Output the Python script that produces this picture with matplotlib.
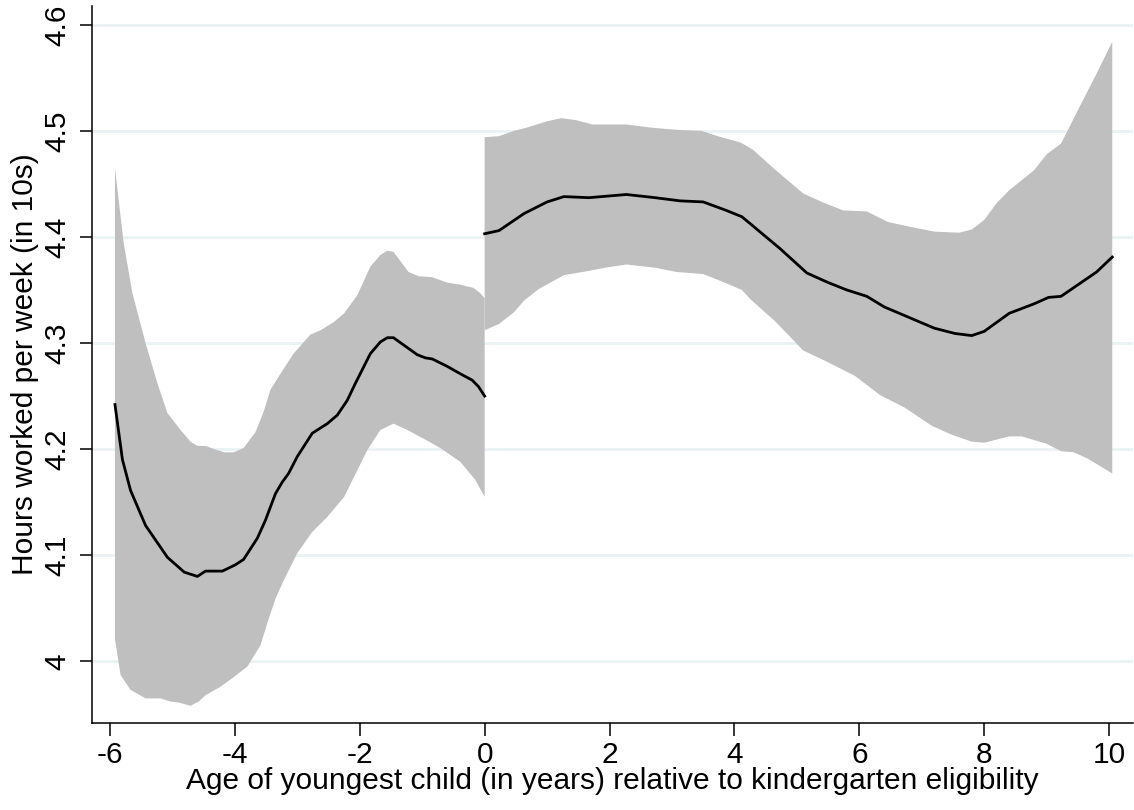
import numpy as np
import matplotlib
matplotlib.use("Agg")
import matplotlib.pyplot as plt

# fitted line and 95% band, before kindergarten eligibility (x <= 0)
left_x = [-5.92, -5.80, -5.67, -5.43, -5.08, -4.81, -4.60, -4.47, -4.20, -3.99, -3.86, -3.64,
          -3.51, -3.35, -3.24, -3.14, -3.00, -2.76, -2.52, -2.36, -2.20, -2.07, -1.83, -1.67,
          -1.56, -1.46, -1.27, -1.08, -0.95, -0.84, -0.60, -0.39, -0.20, -0.10, 0.0]
left_y = [4.242, 4.190, 4.161, 4.128, 4.098, 4.084, 4.080, 4.085, 4.085, 4.091, 4.096, 4.116,
          4.133, 4.158, 4.169, 4.177, 4.193, 4.215, 4.224, 4.232, 4.246, 4.262, 4.290, 4.301,
          4.305, 4.305, 4.297, 4.289, 4.286, 4.285, 4.278, 4.271, 4.265, 4.259, 4.250]

left_hi_x = [-5.92, -5.78, -5.64, -5.43, -5.24, -5.08, -4.87, -4.71, -4.60, -4.47, -4.33, -4.17,
             -4.02, -3.86, -3.67, -3.54, -3.43, -3.27, -3.06, -2.79, -2.63, -2.41, -2.25, -2.04,
             -1.83, -1.67, -1.56, -1.46, -1.22, -1.06, -0.84, -0.60, -0.39, -0.18, -0.07, 0.0]
left_hi_y = [4.465, 4.394, 4.347, 4.300, 4.262, 4.234, 4.218, 4.207, 4.203, 4.203, 4.200, 4.197,
             4.197, 4.201, 4.216, 4.235, 4.256, 4.271, 4.290, 4.308, 4.312, 4.320, 4.328, 4.345,
             4.372, 4.383, 4.387, 4.386, 4.367, 4.363, 4.362, 4.357, 4.355, 4.352, 4.347, 4.342]

left_lo_x = [-5.92, -5.83, -5.67, -5.43, -5.19, -5.03, -4.89, -4.71, -4.58, -4.47, -4.23, -4.02,
             -3.80, -3.59, -3.48, -3.35, -3.22, -3.00, -2.76, -2.52, -2.25, -2.09, -1.88, -1.67,
             -1.46, -1.27, -0.92, -0.71, -0.39, -0.15, 0.0]
left_lo_y = [4.021, 3.987, 3.973, 3.965, 3.965, 3.962, 3.961, 3.958, 3.962, 3.968, 3.976, 3.985,
             3.995, 4.015, 4.036, 4.059, 4.076, 4.102, 4.122, 4.136, 4.155, 4.174, 4.199, 4.218,
             4.224, 4.219, 4.208, 4.201, 4.188, 4.171, 4.155]

# after eligibility (x >= 0)
right_x = [0.0, 0.23, 0.63, 1.00, 1.27, 1.67, 2.27, 2.73, 3.13, 3.50, 3.87, 4.12, 4.73, 5.16,
           5.50, 5.80, 6.12, 6.40, 6.80, 7.20, 7.53, 7.80, 8.00, 8.40, 8.80, 9.03, 9.23, 9.80, 10.05]
right_y = [4.403, 4.406, 4.422, 4.433, 4.438, 4.437, 4.440, 4.437, 4.434, 4.433, 4.425, 4.419,
           4.389, 4.366, 4.357, 4.350, 4.344, 4.334, 4.324, 4.314, 4.309, 4.307, 4.311, 4.328,
           4.337, 4.343, 4.344, 4.367, 4.381]

right_hi_x = [0.0, 0.23, 0.47, 0.67, 1.00, 1.23, 1.47, 1.73, 2.27, 2.67, 3.07, 3.47, 3.73, 4.10,
              4.30, 4.66, 5.10, 5.40, 5.74, 6.12, 6.46, 6.86, 7.20, 7.60, 7.80, 8.00, 8.20, 8.40,
              8.80, 9.00, 9.23, 9.53, 9.80, 10.05]
right_hi_y = [4.494, 4.495, 4.500, 4.503, 4.509, 4.512, 4.510, 4.506, 4.506, 4.503, 4.501, 4.500,
              4.495, 4.489, 4.482, 4.463, 4.441, 4.433, 4.425, 4.424, 4.414, 4.409, 4.405, 4.404,
              4.407, 4.416, 4.432, 4.444, 4.463, 4.478, 4.488, 4.523, 4.554, 4.584]

right_lo_x = [0.0, 0.23, 0.47, 0.63, 0.87, 1.27, 1.67, 1.93, 2.27, 2.73, 3.07, 3.50, 3.80, 4.12,
              4.26, 4.66, 5.10, 5.46, 5.93, 6.33, 6.73, 7.16, 7.46, 7.80, 8.00, 8.40, 8.60, 9.00,
              9.23, 9.43, 9.66, 10.05]
right_lo_y = [4.312, 4.318, 4.329, 4.340, 4.351, 4.364, 4.368, 4.371, 4.374, 4.371, 4.367, 4.365,
              4.358, 4.350, 4.341, 4.320, 4.293, 4.283, 4.269, 4.251, 4.239, 4.222, 4.214, 4.207,
              4.206, 4.212, 4.212, 4.205, 4.198, 4.197, 4.191, 4.177]

x_ticks = [-6, -4, -2, 0, 2, 4, 6, 8, 10]
y_ticks = [4.0, 4.1, 4.2, 4.3, 4.4, 4.5, 4.6]
y_tick_labels = ["4", "4.1", "4.2", "4.3", "4.4", "4.5", "4.6"]

plt.rcParams["font.family"] = ["Liberation Sans", "DejaVu Sans"]

fig = plt.figure(figsize=(11.34, 8.10), dpi=100)
ax = fig.add_axes([0.081, 0.107, 0.918, 0.886])

band_color = "#bfbfbf"
for hx, hy, lx, ly in [(left_hi_x, left_hi_y, left_lo_x, left_lo_y),
                       (right_hi_x, right_hi_y, right_lo_x, right_lo_y)]:
    ax.fill(np.concatenate([hx, lx[::-1]]), np.concatenate([hy, ly[::-1]]),
            color=band_color, linewidth=0, zorder=2)

ax.plot(left_x, left_y, color="black", linewidth=2.0, zorder=3)
ax.plot(right_x, right_y, color="black", linewidth=2.0, zorder=3)

ax.set_xlim(-6.29, 10.38)
ax.set_ylim(3.9415, 4.618)
ax.set_xticks(x_ticks, [str(t) for t in x_ticks])
ax.set_yticks(y_ticks, y_tick_labels)
for lab in ax.get_yticklabels():
    lab.set_rotation(90)
    lab.set_va("center")

ax.grid(True, axis="y", color="#eaf2f3", linewidth=2, zorder=1)
ax.set_axisbelow(True)
ax.spines["top"].set_visible(False)
ax.spines["right"].set_visible(False)
for s in ("left", "bottom"):
    ax.spines[s].set_linewidth(1.1)
ax.tick_params(axis="both", length=9, width=1.1, labelsize=21.5, pad=4)
ax.tick_params(axis="y", pad=6)

ax.set_xlabel("Age of youngest child (in years) relative to kindergarten eligibility",
              fontsize=21.5, labelpad=-2)
ax.set_ylabel("Hours worked per week (in 10s)", fontsize=21.5, labelpad=3)

fig.savefig("out.png", dpi=100)
